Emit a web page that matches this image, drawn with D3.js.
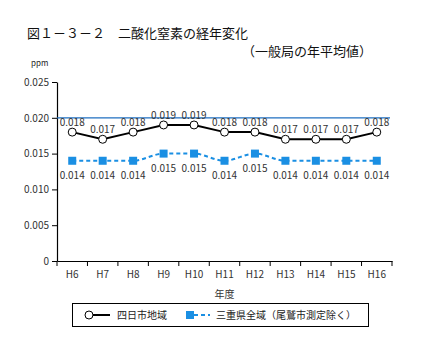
<!DOCTYPE html>
<html><head><meta charset="utf-8">
<script src="https://cdn.jsdelivr.net/npm/d3@7"></script>
<style>body{margin:0;background:#fff}svg{display:block}</style>
</head><body><svg id="c" width="447" height="344"></svg>
<script>
const categories = ["H6","H7","H8","H9","H10","H11","H12","H13","H14","H15","H16"];
const yokkaichi = [0.018,0.017,0.018,0.019,0.019,0.018,0.018,0.017,0.017,0.017,0.018];
const mie = [0.014,0.014,0.014,0.015,0.015,0.014,0.015,0.014,0.014,0.014,0.014];
const yTicks = [0,0.005,0.010,0.015,0.020,0.025];
const yTickLabels = ["0","0.005","0.010","0.015","0.020","0.025"];
const standard = 0.020;

(function(){
const svg = d3.select("#c");
const font = "'Noto Sans CJK JP','Noto Sans',sans-serif";
const mLeft = 57, mRight = 392, mTop = 82, mBottom = 261;
const x = d3.scaleBand().domain(categories).range([mLeft, mRight]);
const y = d3.scaleLinear().domain([0,0.025]).range([mBottom, mTop]);
const cx = d => x(d) + x.bandwidth()/2;

svg.append("text").attr("x",27).attr("y",38).attr("font-family",font).attr("font-size",13).attr("fill","#111")
  .text("図１－３－２　二酸化窒素の経年変化");
svg.append("text").attr("x",372).attr("y",56).attr("text-anchor","end").attr("font-family",font).attr("font-size",13).attr("fill","#111")
  .text("（一般局の年平均値）");
svg.append("text").attr("x",31).attr("y",66).attr("font-family",font).attr("font-size",8).attr("fill","#222").text("ppm");

const ya = svg.append("g").attr("transform",`translate(${mLeft},0)`)
  .call(d3.axisLeft(y).tickValues(yTicks).tickFormat((d,i)=>yTickLabels[i]).tickSize(5).tickSizeOuter(0));
ya.select(".domain").attr("stroke","#000").attr("stroke-width",1.2);
ya.selectAll("text").attr("font-family",font).attr("font-size",10).attr("fill","#333");

const xa = svg.append("g").attr("transform",`translate(0,${mBottom})`)
  .call(d3.axisBottom(x).tickSize(0).tickPadding(10));
xa.select(".domain").attr("stroke","#000").attr("stroke-width",1.2);
xa.selectAll("text").attr("font-family",font).attr("font-size",10).attr("fill","#333");
const bounds = categories.map(c=>x(c)).concat([mRight]);
svg.append("g").selectAll("line").data(bounds).join("line")
  .attr("x1",d=>d).attr("x2",d=>d).attr("y1",mBottom).attr("y2",mBottom+5).attr("stroke","#000");

svg.append("text").attr("x",(mLeft+mRight)/2).attr("y",298).attr("text-anchor","middle")
  .attr("font-family",font).attr("font-size",10).attr("fill","#333").text("年度");

svg.append("line").attr("x1",mLeft).attr("x2",mRight-2).attr("y1",y(standard)).attr("y2",y(standard))
  .attr("stroke","#1f6fc0").attr("stroke-width",1.2);

const blue = "#1a8fe3";
svg.append("path").datum(mie).attr("fill","none").attr("stroke",blue).attr("stroke-width",2)
  .attr("stroke-dasharray","4,3")
  .attr("d", d3.line().x((d,i)=>cx(categories[i])).y(d=>y(d)).curve(d3.curveMonotoneX));
svg.append("g").selectAll("rect").data(mie).join("rect")
  .attr("x",(d,i)=>cx(categories[i])-4).attr("y",d=>y(d)-4).attr("width",8).attr("height",8).attr("fill",blue);
svg.append("g").selectAll("text").data(mie).join("text")
  .attr("x",(d,i)=>cx(categories[i])).attr("y",d=>y(d)+18).attr("text-anchor","middle")
  .attr("font-family",font).attr("font-size",10).attr("fill","#333").text(d=>d.toFixed(3));

svg.append("path").datum(yokkaichi).attr("fill","none").attr("stroke","#000").attr("stroke-width",2)
  .attr("d", d3.line().x((d,i)=>cx(categories[i])).y(d=>y(d)));
svg.append("g").selectAll("circle").data(yokkaichi).join("circle")
  .attr("cx",(d,i)=>cx(categories[i])).attr("cy",d=>y(d)).attr("r",4)
  .attr("fill","#fff").attr("stroke","#000").attr("stroke-width",1);
svg.append("g").selectAll("text").data(yokkaichi).join("text")
  .attr("x",(d,i)=>cx(categories[i])).attr("y",d=>y(d)-6).attr("text-anchor","middle")
  .attr("font-family",font).attr("font-size",10).attr("fill","#333").text(d=>d.toFixed(3));

const lg = svg.append("g");
lg.append("rect").attr("x",72.5).attr("y",303.5).attr("width",296).attr("height",23).attr("fill","#fff").attr("stroke","#000");
lg.append("line").attr("x1",90).attr("x2",110).attr("y1",315).attr("y2",315).attr("stroke","#000").attr("stroke-width",2);
lg.append("circle").attr("cx",89).attr("cy",315).attr("r",4).attr("fill","#fff").attr("stroke","#000");
lg.append("text").attr("x",117).attr("y",319).attr("font-family",font).attr("font-size",10).attr("fill","#222").text("四日市地域");
lg.append("rect").attr("x",186).attr("y",311).attr("width",8).attr("height",8).attr("fill",blue);
lg.append("line").attr("x1",194).attr("x2",210).attr("y1",315).attr("y2",315).attr("stroke",blue).attr("stroke-width",2).attr("stroke-dasharray","4,3");
lg.append("text").attr("x",216).attr("y",319).attr("font-family",font).attr("font-size",10).attr("fill","#222").text("三重県全域（尾鷲市測定除く）");
})();
</script></body></html>
